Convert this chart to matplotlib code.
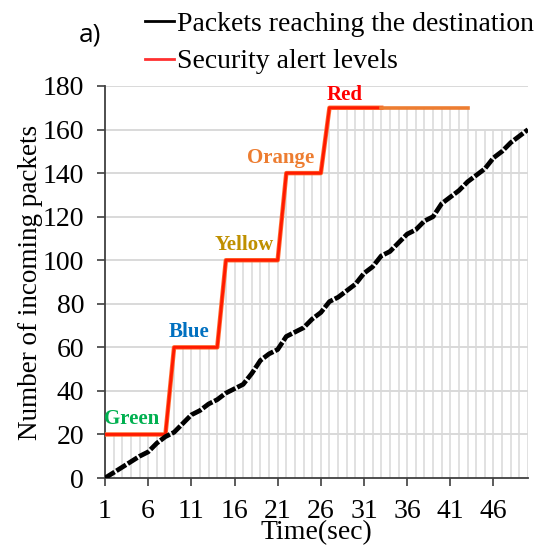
import numpy as np
import matplotlib.pyplot as plt
from matplotlib.lines import Line2D
from matplotlib.font_manager import FontProperties

# data
time_sec = np.arange(1, 51)
packets = [0, 2.5, 5, 7.5, 10, 12, 16, 19, 21, 25,
           29, 31, 34, 36, 39, 41, 43, 48, 54, 57,
           59, 65, 67, 69, 73, 76, 81, 83, 86, 89,
           94, 97, 102, 104, 108, 112, 114, 118, 120, 126,
           129, 132, 136, 139, 142, 147, 150, 154, 157, 160]
alert_time = np.arange(1, 44)
alert_level = [20] * 8 + [60] * 6 + [100] * 7 + [140] * 5 + [170] * 17
red_until = 33
drop_cap = 160

level_names = ['Green', 'Blue', 'Yellow', 'Orange', 'Red']
level_colors = ['#00B050', '#0070C0', '#BF9000', '#ED7D31', '#FF0000']
label_x = [4.1, 10.7, 17.1, 21.4, 28.8]
label_y = [27, 67, 107, 147, 176]

plt.rcParams['font.family'] = ['Liberation Serif', 'DejaVu Serif']

fig = plt.figure(figsize=(5.45, 5.46), dpi=100)
ax = fig.add_axes([0.1927, 0.1245, 0.7761, 0.718])

# drop lines from the highest series down to the axis
tops = [alert_level[i] if i < len(alert_level) else drop_cap for i in range(len(time_sec))]
ax.vlines(time_sec, 0, tops, color='#DCDCDC', lw=1.2, zorder=1)
for yv in range(20, 181, 20):
    ax.axhline(yv, color='#D9D9D9', lw=1.4, zorder=1)

# security alert levels
k = red_until
ax.plot(alert_time[:k], alert_level[:k], color='#FF6A30', lw=3.2, zorder=3)
ax.plot(alert_time[:k], alert_level[:k], color='#FF1A00', lw=2.0, zorder=3)
ax.plot(alert_time[k - 1:], alert_level[k - 1:], color='#ED7D31', lw=2.6, zorder=3)

# packets reaching the destination
ax.plot(time_sec, packets, color='black', lw=3.4, linestyle=(0, (2.4, 0.45)), zorder=4)

for name, c, xx, yy in zip(level_names, level_colors, label_x, label_y):
    ax.text(xx, yy, name, color=c, fontsize=15, fontweight='bold',
            ha='center', va='center', zorder=5)

ax.set_xlim(1, 50)
ax.set_ylim(0, 180)
ax.set_xticks(np.arange(1, 50, 5))
ax.set_yticks(np.arange(0, 181, 20))
for s in ['top', 'right']:
    ax.spines[s].set_visible(False)
for s in ['left', 'bottom']:
    ax.spines[s].set_color('#404040')
    ax.spines[s].set_linewidth(1.3)
ax.tick_params(direction='out', length=6, width=1.2, color='#404040',
               labelsize=20, pad=9)
ax.set_xlabel('Time(sec)', fontsize=20, labelpad=-3)
ax.set_ylabel('Number of incoming packets', fontsize=19.5, labelpad=0)

handles = [Line2D([], [], color='black', lw=2),
           Line2D([], [], color='#FF3030', lw=2)]
fig.legend(handles, ['Packets reaching the destination', 'Security alert levels'],
           loc='upper left', bbox_to_anchor=(0.245, 1.0), frameon=False,
           prop=FontProperties(family='Liberation Serif', size=20), handlelength=1.05,
           handletextpad=0.1, labelspacing=0.45, borderaxespad=0)

fig.text(0.145, 0.935, 'a)', fontsize=19, family='Open Sans', ha='left', va='center')

fig.savefig('out.png', dpi=100)
